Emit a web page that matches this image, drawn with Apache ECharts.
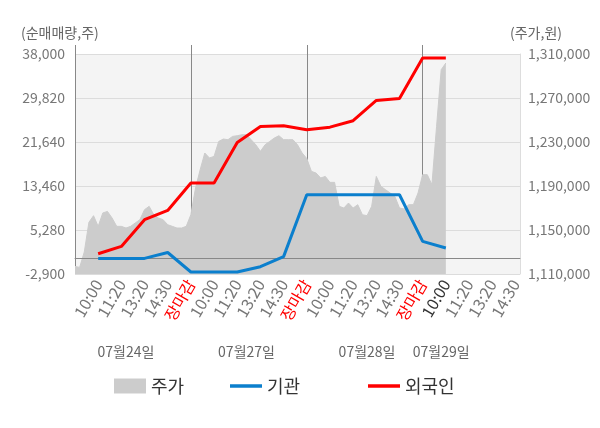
<!DOCTYPE html>
<html><head><meta charset="utf-8">
<script src="https://cdn.jsdelivr.net/npm/echarts/dist/echarts.min.js"></script>
<style>html,body{margin:0;padding:0;background:#fff}#c{width:600px;height:428px}</style>
</head><body><div id="c"></div>
<script>
// ---- data ----
const slotLabels = ['10:00','11:20','13:20','14:30','장마감','10:00','11:20','13:20','14:30','장마감','10:00','11:20','13:20','14:30','장마감','10:00','11:20','13:20','14:30'];
const dateLabels = ['07월24일','07월27일','07월28일','07월29일'];
const institutionValues = [0, 0, 0, 1100, -2530, -2530, -2530, -1550, 330, 11840, 11840, 11840, 11840, 11840, 3160, 1930];
const foreignValues = [870, 2230, 7190, 8920, 14020, 14020, 21560, 24540, 24670, 23930, 24400, 25600, 29370, 29740, 37250, 37250];
const priceValues = [
  1116900, 1116000, 1130000, 1157000, 1163000, 1153300, 1165500, 1166900, 1160900, 1153300,
  1153300, 1151800, 1153300, 1156400, 1159400, 1168500, 1171500, 1163900, 1160900, 1159400,
  1154800, 1153300, 1151800, 1151800, 1153300, 1164000, 1188200, 1204800, 1220000, 1215500,
  1216900, 1230500, 1232700, 1232100, 1235100, 1235700, 1236600, 1236600, 1232100, 1227500,
  1221500, 1227500, 1230500, 1233600, 1235700, 1232100, 1232100, 1232100, 1227500, 1220000,
  1215000, 1203300, 1201800, 1197300, 1198700, 1193300, 1193300, 1171500, 1170000, 1174500,
  1170000, 1173000, 1163900, 1163000, 1171500, 1198700, 1189600, 1186600, 1183600, 1180500,
  1170000, 1169100, 1173000, 1173000, 1183600, 1200300, 1200300, 1191200, 1244200, 1295700,
  1301800
];
const leftAxis = {min: -2900, max: 38000, step: 8180};
const rightAxis = {min: 1110000, max: 1310000, step: 40000};

// ---- layout helpers ----
const STEPS = 5;                       // sub-steps per labelled slot
const COUNT = slotLabels.length * STEPS + 2;
const categories = Array.from({length: COUNT}, (_, i) => 'c' + i);
const slotPos = j => (j + 1) * STEPS;
const dayBounds = [0, 25, 50, 75];
const dateAnchors = [11, 37, 63, 79];

const instData = Array(COUNT).fill(null);
institutionValues.forEach((v, j) => { instData[slotPos(j)] = v; });
const forData = Array(COUNT).fill(null);
foreignValues.forEach((v, j) => { forData[slotPos(j)] = v; });

const fmt = v => Number(v).toLocaleString('en-US');
const FONT = 'Noto Sans CJK KR';
const LINE_ICON = 'path://M0,0h32v3.5h-32z';

const chart = echarts.init(document.getElementById('c'), null, {renderer: 'canvas'});
chart.setOption({
  animation: false,
  textStyle: {fontFamily: FONT},
  title: [
    {text: '(순매매량,주)', left: 21, top: 26, padding: 0, textStyle: {fontSize: 14, fontWeight: 'normal', color: '#666', fontFamily: FONT}},
    {text: '(주가,원)', right: 38, top: 26, padding: 0, textStyle: {fontSize: 14, fontWeight: 'normal', color: '#666', fontFamily: FONT}}
  ],
  grid: {left: 75, width: 445, top: 54, height: 220, show: true, backgroundColor: '#f4f4f4', borderWidth: 0},
  legend: [
    {left: 114, top: 377, padding: 0, itemWidth: 32, itemHeight: 15,
     data: [{name: '주가', icon: 'rect', itemStyle: {color: '#cccccc'}}],
     textStyle: {fontSize: 18, color: '#333'}},
    {left: 230, top: 377, padding: 0, itemWidth: 32, itemHeight: 15,
     data: [{name: '기관', icon: LINE_ICON}], textStyle: {fontSize: 18, color: '#333'}},
    {left: 368, top: 377, padding: 0, itemWidth: 32, itemHeight: 15,
     data: [{name: '외국인', icon: LINE_ICON}], textStyle: {fontSize: 18, color: '#333'}}
  ],
  xAxis: [
    {
      type: 'category', data: categories, boundaryGap: false, position: 'bottom',
      axisLine: {show: true, lineStyle: {color: '#999', width: 1}},
      axisTick: {show: true, length: 5, interval: i => dayBounds.includes(i), lineStyle: {color: '#888'}},
      splitLine: {show: true, interval: i => dayBounds.includes(i), lineStyle: {color: '#888', width: 1}},
      axisLabel: {
        rotate: 60, margin: 7, fontSize: 16,
        interval: i => i > 0 && i % STEPS === 0 && (i / STEPS - 1) < slotLabels.length,
        formatter: (v, i) => {
          const j = i / STEPS - 1;
          const t = slotLabels[j];
          if (t === '장마감') return '{r|' + t + '}';
          if (j === slotLabels.length - 4) return '{d|' + t + '}';
          return '{g|' + t + '}';
        },
        rich: {
          r: {color: '#ff0000', fontSize: 16, fontFamily: FONT},
          d: {color: '#333', fontSize: 16, fontFamily: FONT},
          g: {color: '#777', fontSize: 16, fontFamily: FONT}
        }
      }
    },
    {
      type: 'category', data: categories, boundaryGap: false, position: 'top',
      axisLine: {show: false},
      axisTick: {show: true, length: 9, interval: i => dayBounds.includes(i), lineStyle: {color: '#888'}},
      axisLabel: {show: false}, splitLine: {show: false}
    },
    {
      type: 'category', data: categories, boundaryGap: false, position: 'bottom', offset: 71,
      axisLine: {show: false}, axisTick: {show: false}, splitLine: {show: false},
      axisLabel: {
        fontSize: 14, color: '#666', margin: 0,
        interval: i => dateAnchors.includes(i),
        formatter: (v, i) => dateLabels[dateAnchors.indexOf(i)] || ''
      }
    }
  ],
  yAxis: [
    {
      type: 'value', position: 'left', min: leftAxis.min, max: leftAxis.max, interval: leftAxis.step,
      axisLine: {show: false}, axisTick: {show: false},
      splitLine: {show: true, lineStyle: {color: '#dcdcdc', width: 1}},
      axisLabel: {fontSize: 14, color: '#777', margin: 10, formatter: fmt}
    },
    {
      type: 'value', position: 'right', min: rightAxis.min, max: rightAxis.max, interval: rightAxis.step,
      axisLine: {show: true, lineStyle: {color: '#ddd'}}, axisTick: {show: false},
      splitLine: {show: false},
      axisLabel: {fontSize: 14, color: '#777', margin: 8, formatter: fmt}
    }
  ],
  series: [
    {
      name: '주가', type: 'line', xAxisIndex: 0, yAxisIndex: 1, data: priceValues,
      symbol: 'none', itemStyle: {color: '#cccccc'},
      lineStyle: {width: 1, color: '#cccccc'},
      areaStyle: {color: '#cccccc', opacity: 1}, z: 1
    },
    {
      name: '기관', type: 'line', xAxisIndex: 0, yAxisIndex: 0, data: instData,
      connectNulls: true, symbol: 'none', itemStyle: {color: '#0b7fcd'},
      lineStyle: {width: 3, color: '#0b7fcd'}, z: 3,
      markLine: {
        silent: true, symbol: 'none', label: {show: false},
        lineStyle: {color: '#888', width: 1, type: 'solid'},
        data: [{yAxis: 0}], z: 2
      }
    },
    {
      name: '외국인', type: 'line', xAxisIndex: 0, yAxisIndex: 0, data: forData,
      connectNulls: true, symbol: 'none', itemStyle: {color: '#ff0000'},
      lineStyle: {width: 3, color: '#ff0000'}, z: 4
    }
  ]
});
</script></body></html>
